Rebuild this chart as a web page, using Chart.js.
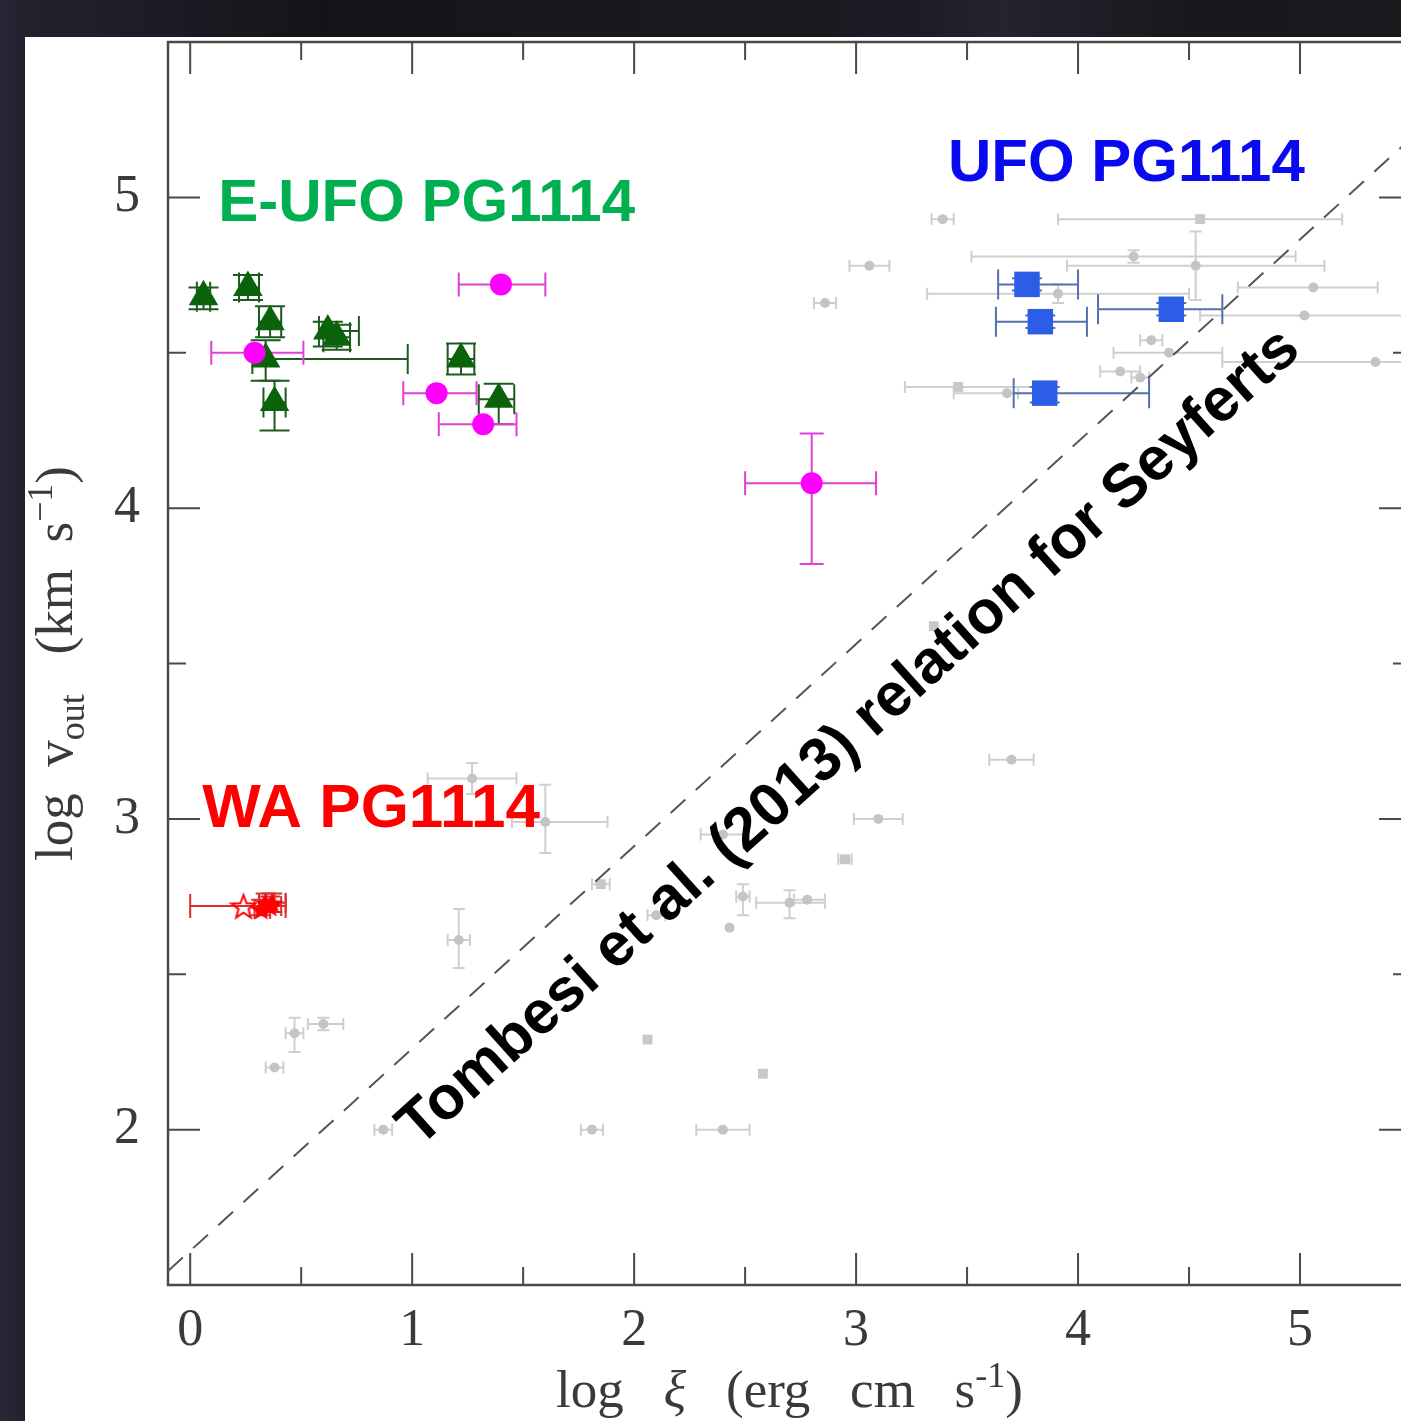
<!DOCTYPE html>
<html>
<head>
<meta charset="utf-8">
<script src="https://cdn.jsdelivr.net/npm/chart.js@4.4.1/dist/chart.umd.min.js"></script>
<style>
  html, body { margin: 0; padding: 0; width: 1401px; height: 1421px; overflow: hidden; }
  body { position: relative; background: linear-gradient(90deg, #2a2736 0px, #24212f 25px, #141418 320px, #1c1b23 900px, #24242f 1000px, #18171c 1200px, #1a191e 1401px); }
  #panel { position: absolute; left: 25px; top: 37px; width: 1400px; height: 1400px; background: #fff; }
  #wrap { position: absolute; left: 0; top: 0; width: 1500px; height: 1421px; }
</style>
</head>
<body>
<div id="panel"></div>
<div id="wrap"><canvas id="c" width="1500" height="1421"></canvas></div>
<script>
// axis ticks
var xMajor = [0, 1, 2, 3, 4, 5];
var xMinor = [0.5, 1.5, 2.5, 3.5, 4.5];
var yMajor = [2, 3, 4, 5];
var yMinor = [2.5, 3.5, 4.5];

// E-UFO PG1114 (green triangles)
var eufoX = [0.06, 0.26, 0.36, 0.34, 0.38, 0.62, 0.66, 1.22, 1.39];
var eufoY = [4.68, 4.71, 4.60, 4.48, 4.34, 4.57, 4.55, 4.48, 4.35];
var eufoXErr = [[0.03, 0.09], [0.22, 0.31], [0.31, 0.41], [0.28, 0.98], [0.33, 0.43], [0.58, 0.76], [0.60, 0.72], [1.16, 1.28], [1.30, 1.46]];
var eufoYErr = [[4.64, 4.71], [4.67, 4.75], [4.55, 4.65], [4.41, 4.54], [4.25, 4.41], [4.52, 4.60], [4.51, 4.59], [4.43, 4.53], [4.27, 4.40]];

// magenta circles
var magX = [1.40, 0.29, 1.11, 1.32, 2.80];
var magY = [4.72, 4.50, 4.37, 4.27, 4.08];
var magXErr = [[1.21, 1.60], [0.095, 0.51], [0.96, 1.29], [1.12, 1.47], [2.50, 3.09]];
var magYErr = [null, null, null, null, [3.82, 4.24]];

// UFO PG1114 (blue squares)
var ufoX = [3.77, 3.83, 4.42, 3.85];
var ufoY = [4.72, 4.60, 4.64, 4.37];
var ufoXErr = [[3.64, 4.00], [3.63, 4.04], [4.09, 4.65], [3.71, 4.32]];
var ufoYErr = [[4.70, 4.74], [4.58, 4.62], [4.62, 4.66], [4.34, 4.39]];

// WA PG1114 (red stars)
var waOpenX = [0.24];
var waOpenY = [2.72];
var waOpenXErr = [[0.0, 0.43]];
var waX = [0.32, 0.34, 0.36, 0.37];
var waY = [2.71, 2.73, 2.72, 2.73];
var waXErr = [[0.29, 0.36], [0.31, 0.38], [0.33, 0.41], [0.34, 0.43]];
var waYErr = [[2.69, 2.74], [2.70, 2.76], [2.70, 2.75], [2.70, 2.76]];

// comparison sample (grey)
var greyCircX = [3.39, 4.25, 4.53, 3.06, 2.86, 5.06, 5.02, 3.91, 4.33, 4.41, 5.34, 4.19, 4.28, 3.68, 3.70, 3.10, 2.70, 2.78, 2.49, 2.43, 2.40, 2.10, 2.40, 1.27, 1.60, 1.21, 1.81, 0.87, 0.47, 0.60, 0.38];
var greyCircY = [4.93, 4.81, 4.78, 4.78, 4.66, 4.71, 4.62, 4.69, 4.54, 4.50, 4.47, 4.44, 4.42, 4.37, 3.19, 3.00, 2.73, 2.74, 2.75, 2.65, 2.95, 2.69, 2.00, 3.13, 2.99, 2.61, 2.00, 2.00, 2.31, 2.34, 2.20];
var greyCircXErr = [[3.34, 3.44], [3.52, 4.98], [3.95, 5.11], [2.97, 3.15], [2.81, 2.91], [4.72, 5.35], [4.55, 5.6], [3.32, 4.50], [4.28, 4.38], [4.16, 4.65], [4.65, 5.6], [4.10, 4.28], [4.24, 4.32], [3.44, 3.73], [3.60, 3.80], [2.99, 3.21], [2.55, 2.86], [2.72, 2.86], [2.46, 2.52], null, [2.30, 2.50], [2.06, 2.14], [2.28, 2.52], [1.07, 1.47], [1.45, 1.88], [1.16, 1.26], [1.76, 1.86], [0.83, 0.91], [0.43, 0.51], [0.53, 0.69], [0.34, 0.42]];
var greyCircYErr = [null, [4.79, 4.83], [4.67, 4.89], null, null, null, null, [4.66, 4.72], null, null, null, null, null, null, null, null, [2.68, 2.77], null, [2.69, 2.79], null, null, null, null, [3.08, 3.18], [2.89, 3.11], [2.52, 2.71], null, null, [2.25, 2.36], [2.32, 2.36], null];
var greySqX = [4.55, 3.46, 3.35, 2.95, 2.06, 2.58, 1.85];
var greySqY = [4.93, 4.39, 3.62, 2.87, 2.29, 2.18, 2.79];
var greySqXErr = [[3.91, 5.19], [3.22, 3.86], null, [2.92, 2.98], null, null, [1.81, 1.89]];
var greySqYErr = [null, null, null, null, null, null, null];

// Tombesi et al. (2013) relation, end points
var relX = [-0.1, 5.5];
var relY = [1.545, 5.19];

// text labels in data coordinates
var notes = [
  { text: 'E-UFO PG1114', x: 0.126, y: 4.923, color: '#00b050', size: 60 },
  { text: 'UFO PG1114', x: 3.414, y: 5.052, color: '#0a0af0', size: 60 },
  { text: 'WA PG1114', x: 0.054, y: 2.974, color: '#ff0000', size: 62 }
];
var relNote = { text: 'Tombesi et al. (2013) relation for Seyferts', x: 2.97, y: 3.26 };

function starImage(size, filled) {
  var c = document.createElement('canvas');
  c.width = size; c.height = size;
  var g = c.getContext('2d');
  var r = size / 2 - 1.5, ri = r * 0.42, m = size / 2;
  g.beginPath();
  for (var i = 0; i < 10; i++) {
    var a = -Math.PI / 2 + i * Math.PI / 5;
    var rr = i % 2 ? ri : r;
    g.lineTo(m + rr * Math.cos(a), m + 1.5 + rr * Math.sin(a));
  }
  g.closePath();
  if (filled) { g.fillStyle = '#ff0000'; g.fill(); }
  else { g.strokeStyle = '#ff0000'; g.lineWidth = 2; g.stroke(); }
  return c;
}

function series(xs, ys, xe, ye, opts) {
  var ds = {
    data: xs.map(function (v, i) { return { x: v, y: ys[i] }; }),
    xErr: xe, yErr: ye,
    borderWidth: 0, pointBorderWidth: 0
  };
  for (var k in opts) ds[k] = opts[k];
  return ds;
}

var errorBars = {
  id: 'errorBars',
  beforeDatasetsDraw: function (chart) {
    var ctx = chart.ctx, sx = chart.scales.x, sy = chart.scales.y, a = chart.chartArea;
    ctx.save();
    ctx.beginPath();
    ctx.rect(a.left, a.top, a.right - a.left, a.bottom - a.top);
    ctx.clip();
    chart.data.datasets.slice().reverse().forEach(function (ds) {
      if (!ds.xErr) return;
      ctx.strokeStyle = ds.errColor;
      ctx.lineWidth = 2;
      ds.data.forEach(function (p, i) {
        var px = sx.getPixelForValue(p.x), py = sy.getPixelForValue(p.y), c = ds.cap;
        var xe = ds.xErr[i], ye = ds.yErr ? ds.yErr[i] : null;
        ctx.beginPath();
        if (xe) {
          var l = sx.getPixelForValue(xe[0]), r = sx.getPixelForValue(xe[1]);
          ctx.moveTo(l, py); ctx.lineTo(r, py);
          ctx.moveTo(l, py - c); ctx.lineTo(l, py + c);
          ctx.moveTo(r, py - c); ctx.lineTo(r, py + c);
        }
        if (ye) {
          var b = sy.getPixelForValue(ye[0]), t = sy.getPixelForValue(ye[1]);
          ctx.moveTo(px, b); ctx.lineTo(px, t);
          ctx.moveTo(px - c, b); ctx.lineTo(px + c, b);
          ctx.moveTo(px - c, t); ctx.lineTo(px + c, t);
        }
        ctx.stroke();
      });
    });
    ctx.restore();
  }
};

var frameTicks = {
  id: 'frameTicks',
  beforeDatasetsDraw: function (chart) {
    var ctx = chart.ctx, sx = chart.scales.x, sy = chart.scales.y, a = chart.chartArea;
    ctx.save();
    ctx.strokeStyle = '#4a4a4a';
    ctx.lineWidth = 2.5;
    ctx.strokeRect(a.left, a.top, a.right - a.left, a.bottom - a.top);
    ctx.lineWidth = 2;
    ctx.beginPath();
    function xt(v, len) {
      var p = sx.getPixelForValue(v);
      ctx.moveTo(p, a.bottom); ctx.lineTo(p, a.bottom - len);
      ctx.moveTo(p, a.top); ctx.lineTo(p, a.top + len);
    }
    function yt(v, len) {
      var p = sy.getPixelForValue(v);
      ctx.moveTo(a.left, p); ctx.lineTo(a.left + len, p);
      ctx.moveTo(a.right, p); ctx.lineTo(a.right - len, p);
    }
    xMajor.forEach(function (v) { xt(v, 32); });
    xMinor.forEach(function (v) { xt(v, 18); });
    yMajor.forEach(function (v) { yt(v, 32); });
    yMinor.forEach(function (v) { yt(v, 18); });
    ctx.stroke();
    ctx.restore();
  }
};

function drawRich(ctx, parts, cx, base, size) {
  var w = 0;
  parts.forEach(function (p) {
    var s = p.sub || p.sup ? size * 0.68 : size;
    ctx.font = (p.it ? 'italic ' : '') + s + 'px "Liberation Serif"';
    p.w = ctx.measureText(p.t).width;
    w += p.w;
  });
  var x = cx - w / 2;
  parts.forEach(function (p) {
    var s = p.sub || p.sup ? size * 0.68 : size;
    ctx.font = (p.it ? 'italic ' : '') + s + 'px "Liberation Serif"';
    var dy = p.sub ? size * 0.22 : (p.sup ? -size * 0.38 : 0);
    ctx.fillText(p.t, x, base + dy);
    x += p.w;
  });
}

var texts = {
  id: 'texts',
  afterDatasetsDraw: function (chart) {
    var ctx = chart.ctx, sx = chart.scales.x, sy = chart.scales.y, a = chart.chartArea;
    ctx.save();
    ctx.textBaseline = 'alphabetic';
    ctx.textAlign = 'left';
    notes.forEach(function (n) {
      ctx.font = 'bold ' + n.size + 'px "Liberation Sans"';
      ctx.fillStyle = n.color;
      ctx.fillText(n.text, sx.getPixelForValue(n.x), sy.getPixelForValue(n.y));
    });
    ctx.save();
    ctx.translate(sx.getPixelForValue(relNote.x), sy.getPixelForValue(relNote.y));
    ctx.rotate(-42 * Math.PI / 180);
    ctx.font = 'bold 61px "Liberation Sans"';
    ctx.fillStyle = '#000';
    ctx.textAlign = 'center';
    ctx.textBaseline = 'middle';
    ctx.fillText(relNote.text, 0, 0);
    ctx.restore();

    // axis titles
    ctx.fillStyle = '#3a3a3a';
    ctx.textAlign = 'left';
    drawRich(ctx, [{ t: 'log   ' }, { t: '\u03be', it: true }, { t: '   (erg   cm   s' }, { t: '-1', sup: true }, { t: ')' }],
      (a.left + a.right) / 2, a.bottom + 122, 53);
    ctx.save();
    ctx.translate(a.left - 96, (a.top + a.bottom) / 2);
    ctx.rotate(-Math.PI / 2);
    drawRich(ctx, [{ t: 'log  v' }, { t: 'out', sub: true }, { t: '   (km  s' }, { t: '\u22121', sup: true }, { t: ')' }],
      0, 0, 53);
    ctx.restore();
    ctx.restore();
  }
};

var tickFont = { family: 'Liberation Serif', size: 52 };

new Chart(document.getElementById('c'), {
  type: 'scatter',
  data: {
    datasets: [
      series(waX, waY, waXErr, waYErr, { pointStyle: starImage(26, true), errColor: '#d83030', cap: 10 }),
      series(waOpenX, waOpenY, waOpenXErr, null, { pointStyle: starImage(28, false), errColor: '#d83030', cap: 12 }),
      series(ufoX, ufoY, ufoXErr, ufoYErr, { pointStyle: 'rect', pointRadius: 18, backgroundColor: '#2b5de6', errColor: '#5470b0', cap: 15 }),
      series(magX, magY, magXErr, magYErr, { pointStyle: 'circle', pointRadius: 11, backgroundColor: '#ff00ff', errColor: '#e040d8', cap: 12 }),
      series(eufoX, eufoY, eufoXErr, eufoYErr, { pointStyle: 'triangle', pointRadius: 17, backgroundColor: '#0a620a', errColor: '#1e5a1e', cap: 15 }),
      {
        type: 'line', data: relX.map(function (v, i) { return { x: v, y: relY[i] }; }),
        borderColor: '#555555', borderWidth: 2, borderDash: [20, 14], pointRadius: 0, showLine: true
      },
      series(greySqX, greySqY, greySqXErr, greySqYErr, { pointStyle: 'rect', pointRadius: 7, backgroundColor: '#c8c8c8', errColor: '#cfcfcf', cap: 6 }),
      series(greyCircX, greyCircY, greyCircXErr, greyCircYErr, { pointStyle: 'circle', pointRadius: 5, backgroundColor: '#c4c4c4', errColor: '#cfcfcf', cap: 6 })
    ]
  },
  options: {
    responsive: false,
    animation: false,
    events: [],
    layout: { padding: { top: 42, right: 89, left: 0, bottom: 0 } },
    plugins: { legend: { display: false }, tooltip: { enabled: false } },
    scales: {
      x: {
        type: 'linear', min: -0.1, max: 5.5,
        grid: { display: false, drawTicks: false }, border: { display: false },
        afterBuildTicks: function (s) { s.ticks = xMajor.map(function (v) { return { value: v }; }); },
        afterFit: function (s) { s.height = 136; s.paddingLeft = 0; s.paddingRight = 0; },
        ticks: { font: tickFont, color: '#3a3a3a', padding: 15, maxRotation: 0, autoSkip: false }
      },
      y: {
        type: 'linear', min: 1.5, max: 5.5,
        grid: { display: false, drawTicks: false }, border: { display: false },
        afterBuildTicks: function (s) { s.ticks = yMajor.map(function (v) { return { value: v }; }); },
        afterFit: function (s) { s.width = 168; s.paddingTop = 0; s.paddingBottom = 0; },
        ticks: { font: tickFont, color: '#3a3a3a', padding: 28, autoSkip: false }
      }
    }
  },
  plugins: [frameTicks, errorBars, texts]
});
</script>
</body>
</html>
